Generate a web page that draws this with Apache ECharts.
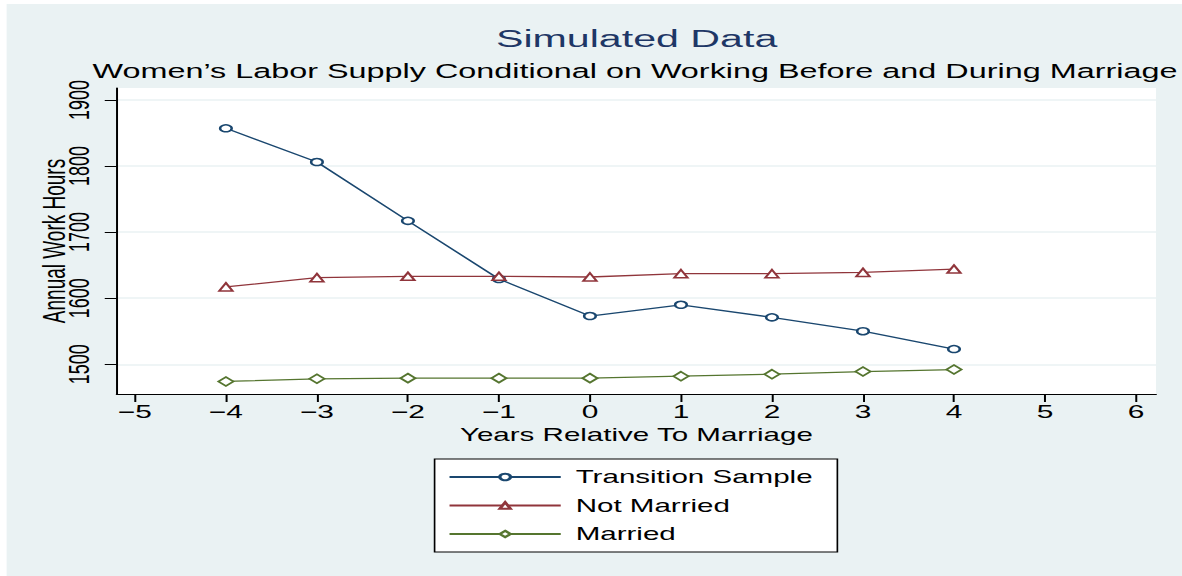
<!DOCTYPE html>
<html>
<head>
<meta charset="utf-8">
<script src="https://cdn.jsdelivr.net/npm/echarts@6/dist/echarts.min.js"></script>
<style>
  html, body { margin: 0; padding: 0; background: #ffffff; overflow: hidden; }
  #wrap { position: absolute; left: 0; top: 0; width: 712px; height: 576px;
          transform: scaleX(1.66); transform-origin: 0 0; }
  #chart { position: absolute; left: 3.6px; top: 4px; width: 708.4px; height: 572px; background: #eaf2f3; }
</style>
</head>
<body>
<div id="wrap"><div id="chart"></div></div>
<script>
// Data
const years = [-4, -3, -2, -1, 0, 1, 2, 3, 4];
const transitionSample = [1857, 1806, 1717, 1629, 1573, 1590, 1571, 1550, 1523];
const notMarried = [1617, 1631, 1633, 1633, 1632, 1637, 1637, 1639, 1644];
const married = [1474, 1478, 1479, 1479, 1479, 1482, 1485, 1489, 1492];
const xTicks = [-5, -4, -3, -2, -1, 0, 1, 2, 3, 4, 5, 6];
const yTicks = [1500, 1600, 1700, 1800, 1900];
const seriesNames = ['Transition Sample', 'Not Married', 'Married'];

const FONT = '"Liberation Sans", Arial, Helvetica, sans-serif';
const colors = ['#1a476f', '#90353b', '#55752f'];
const symbols = ['circle', 'triangle', 'diamond'];
const symbolSizes = [7, 8, 9];

function pairs(xs, ys) { return xs.map((x, i) => [x, ys[i]]); }
const allValues = [transitionSample, notMarried, married];

const chart = echarts.init(document.getElementById('chart'), null, { renderer: 'svg' });
chart.setOption({
  backgroundColor: '#eaf2f3',
  animation: false,
  title: [
    { text: 'Simulated Data', left: 379.5, top: 19, textAlign: 'center', padding: 0,
      textStyle: { fontFamily: FONT, fontSize: 24.8, fontWeight: 'normal', color: '#1e3766', lineHeight: 30 } },
    { text: 'Women\u2019s Labor Supply Conditional on Working Before and During Marriage', left: 378.5, top: 55,
      textAlign: 'center', padding: 0,
      textStyle: { fontFamily: FONT, fontSize: 19.5, fontWeight: 'normal', color: '#000000', lineHeight: 24 } }
  ],
  grid: { left: 66.3, right: 15.6, top: 84, bottom: 182, show: true, backgroundColor: '#ffffff', borderWidth: 0 },
  legend: {
    data: seriesNames,
    orient: 'vertical',
    left: 257.8, top: 455,
    backgroundColor: '#ffffff', borderColor: '#000000', borderWidth: 1,
    padding: [9, 15, 9, 8],
    itemWidth: 67, itemHeight: 8, itemGap: 10.5,
    textStyle: { fontFamily: FONT, fontSize: 17.8, color: '#000000', padding: [0, 0, 0, 4] }
  },
  xAxis: {
    type: 'value', min: -5.2, max: 6.22,
    name: 'Years Relative To Marriage', nameLocation: 'middle', nameGap: 32,
    nameTextStyle: { fontFamily: FONT, fontSize: 17.8, color: '#000000' },
    axisLine: { show: true, onZero: false, lineStyle: { color: '#000000', width: 1.2 } },
    axisTick: { show: true, length: 8, customValues: xTicks, lineStyle: { color: '#000000', width: 1.2 } },
    axisLabel: { customValues: xTicks, margin: 9, fontFamily: FONT, fontSize: 18, color: '#000000',
      formatter: v => (v < 0 ? '\u2212' + Math.abs(v) : String(v)) },
    splitLine: { show: false }
  },
  yAxis: {
    type: 'value', min: 1455, max: 1918,
    name: 'Annual Work Hours', nameLocation: 'middle', nameGap: 28, nameMoveOverlap: false,
    nameTextStyle: { fontFamily: FONT, fontSize: 19, color: '#000000' },
    axisLine: { show: true, onZero: false, lineStyle: { color: '#000000', width: 1.2 } },
    axisTick: { show: true, length: 7.2, customValues: yTicks, lineStyle: { color: '#000000', width: 1.2 } },
    axisLabel: { customValues: yTicks, rotate: 90, margin: 14, fontFamily: FONT, fontSize: 18, color: '#000000',
      formatter: v => String(v) },
    splitLine: { show: true, lineStyle: { color: '#eaf2f3', width: 1.5 } }
  },
  series: seriesNames.map((name, i) => ({
    name: name,
    type: 'line',
    data: pairs(years, allValues[i]),
    symbol: symbols[i],
    symbolSize: symbolSizes[i],
    showAllSymbol: true,
    lineStyle: { color: colors[i], width: 1.3 },
    itemStyle: { color: '#ffffff', borderColor: colors[i], borderWidth: 1.5 },
    emphasis: { disabled: true }
  }))
});
</script>
</body>
</html>
